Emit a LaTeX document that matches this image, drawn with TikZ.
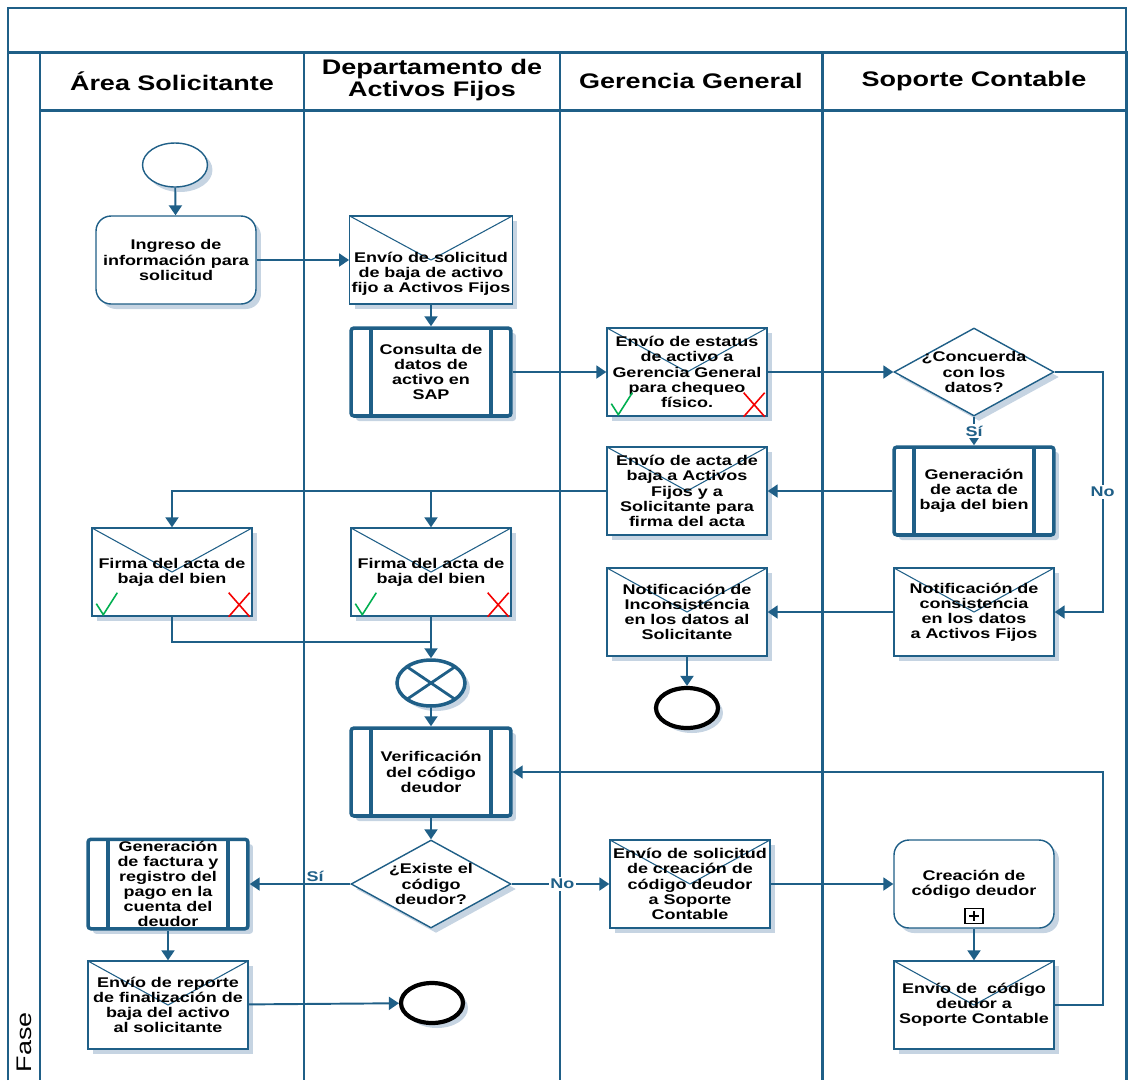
\documentclass[tikz,border=0pt]{standalone}
\usepackage{fontspec}
\usetikzlibrary{arrows.meta,shapes.geometric,shadows}
\newfontfamily\bpmnfont[FakeStretch=1.28]{Liberation Sans}
\definecolor{bpmnblue}{RGB}{31,95,135}
\definecolor{bpmnshadow}{RGB}{198,212,226}
\definecolor{okgreen}{RGB}{0,175,80}
\definecolor{nored}{RGB}{245,0,0}

\begin{document}
\begin{tikzpicture}[x=0.02cm,y=-0.02cm]
	\tikzstyle{lane} = [bpmnblue,line width=1.7pt]
	\tikzstyle{lanehead} = [font=\bpmnfont\bfseries\fontsize{12}{13}\selectfont,align=center]
	\tikzstyle{sombra} = [drop shadow={shadow xshift=0.1cm,shadow yshift=-0.1cm,fill=bpmnshadow,opacity=1}]
	\tikzstyle{bpmnbox} = [draw=bpmnblue,fill=white,line width=0.8pt,sombra,minimum width=3.2cm,minimum height=1.76cm,inner sep=1pt,align=center,font=\bpmnfont\bfseries\fontsize{8}{8.6}\selectfont]
	\tikzstyle{tarea} = [bpmnbox,rounded corners=0.3cm]
	\tikzstyle{mensaje} = [bpmnbox,path picture={\draw[bpmnblue,line width=0.6pt] (path picture bounding box.north west) -- (path picture bounding box.center) -- (path picture bounding box.north east);}]
	\tikzstyle{subproceso} = [bpmnbox,line width=2pt,rounded corners=0.06cm,path picture={\draw[bpmnblue,line width=2pt] ([xshift=0.4cm]path picture bounding box.north west) -- ([xshift=0.4cm]path picture bounding box.south west) ([xshift=-0.4cm]path picture bounding box.north east) -- ([xshift=-0.4cm]path picture bounding box.south east);}]
	\tikzstyle{decision} = [bpmnbox,diamond,aspect=2,inner xsep=-0.4cm,inner ysep=-0.2cm]
	\tikzstyle{inicio} = [ellipse,draw=bpmnblue,fill=white,line width=0.8pt,sombra,minimum width=1.3cm,minimum height=0.88cm]
	\tikzstyle{fin} = [ellipse,draw=black,fill=white,line width=2.4pt,sombra,minimum width=1.24cm,minimum height=0.8cm]
	\tikzstyle{compuerta} = [ellipse,draw=bpmnblue,fill=white,line width=2pt,sombra,minimum width=1.36cm,minimum height=0.92cm,path picture={\draw[bpmnblue,line width=1.6pt] (path picture bounding box.north west) -- (path picture bounding box.south east) (path picture bounding box.south west) -- (path picture bounding box.north east);}]
	\tikzstyle{flujo} = [bpmnblue,line width=1.1pt,-{Triangle[width=0.26cm,length=0.2cm]}]
	\tikzstyle{etiq} = [font=\bpmnfont\bfseries\fontsize{8}{8.6}\selectfont,inner sep=1pt]

	% check and cross of a signed message
	\def\marcas#1{%
		\draw[okgreen,line width=0.9pt] ([shift={(5,-13)}]#1.south west) -- ([shift={(12,-2)}]#1.south west) -- ([shift={(26,-24)}]#1.south west);
		\draw[nored,line width=0.9pt] ([shift={(-24,-24)}]#1.south east) -- ([shift={(-3,0)}]#1.south east) ([shift={(-24,0)}]#1.south east) -- ([shift={(-3,-24)}]#1.south east);}

	\useasboundingbox (0,0) rectangle (1130,1080);

	% LANES %
	\draw[bpmnblue,line width=0.8pt] (8,8) rectangle (1126,52);
	\draw[lane] (8,1080) -- (8,52) -- (1126,52) -- (1126,1080);
	\draw[lane] (40,110) -- (1126,110);
	\foreach \xl in {40,304,560,822}
		\draw[lane] (\xl,52) -- (\xl,1080);

	\node[lanehead] (hsol) at (172,81) {Área Solicitante};
	\node[lanehead] (hact) at (432,80) {Departamento de\\Activos Fijos};
	\node[lanehead] (hger) at (691,81) {Gerencia General};
	\node[lanehead] (hsop) at (974,81) {Soporte Contable};
	\node[font=\bpmnfont\fontsize{12}{13}\selectfont,rotate=90,anchor=west,inner sep=2pt] (fase) at (24,1076) {Fase};

	% NODES %
	\node[inicio] (inicio) at (175,165) {};
	\node[tarea] (ingreso) at (176,260) {Ingreso de\\información para\\solicitud};
	\node[mensaje] (envsol) at (431,260) {\rule{0pt}{22pt}Envío de solicitud\\de baja de activo\\fijo a Activos Fijos};
	\node[subproceso] (consulta) at (431,372) {Consulta de\\datos de\\activo en\\SAP};
	\node[mensaje] (estatus) at (687,372) {Envío de estatus\\de activo a\\Gerencia General\\para chequeo\\físico.};
	\node[decision] (concuerda) at (974,372) {¿Concuerda\\con los\\datos?};
	\node[subproceso] (genacta) at (974,491) {Generación\\de acta de\\baja del bien};
	\node[mensaje] (envacta) at (687,491) {Envío de acta de\\baja a Activos\\Fijos y a\\Solicitante para\\firma del acta};
	\node[mensaje] (firma1) at (172,572) {Firma del acta de\\baja del bien};
	\node[mensaje] (firma2) at (431,572) {Firma del acta de\\baja del bien};
	\node[mensaje] (notcons) at (974,612) {Notificación de\\consistencia\\en los datos\\a Activos Fijos};
	\node[mensaje] (notincons) at (687,612) {Notificación de\\Inconsistencia\\en los datos al\\Solicitante};
	\node[fin] (fin1) at (687,708) {};
	\node[compuerta] (compuerta) at (431,683) {};
	\node[subproceso] (verif) at (431,772) {Verificación\\del código\\deudor};
	\node[decision] (existe) at (431,884) {¿Existe el\\código\\deudor?};
	\node[subproceso] (factura) at (168,884) {Generación\\de factura y\\registro del\\pago en la\\cuenta del\\deudor};
	\node[mensaje] (reporte) at (168,1005) {Envío de reporte\\de finalización de\\baja del activo\\al solicitante};
	\node[fin] (fin2) at (432,1003) {};
	\node[mensaje] (envcrea) at (690,884) {Envío de solicitud\\de creación de\\código deudor\\a Soporte\\Contable};
	\node[tarea] (creacion) at (974,884) {Creación de\\código deudor};
	\node[draw=black,fill=white,line width=0.6pt,minimum width=0.36cm,minimum height=0.3cm,inner sep=0pt,path picture={\draw[black,line width=1.3pt] ([xshift=-0.1cm]path picture bounding box.center) -- ([xshift=0.1cm]path picture bounding box.center) ([yshift=-0.1cm]path picture bounding box.center) -- ([yshift=0.1cm]path picture bounding box.center);}] (mas) at ([yshift=0.26cm]creacion.south) {};
	\node[mensaje] (envcod) at (974,1005) {Envío de\ \ código\\deudor a\\Soporte Contable};

	\marcas{estatus}
	\marcas{firma1}
	\marcas{firma2}

	% EDGES %
	\draw[flujo] (inicio) -- (ingreso);
	\draw[flujo] (ingreso) -- (envsol);
	\draw[flujo] (envsol) -- (consulta);
	\draw[flujo] (consulta) -- (estatus);
	\draw[flujo] (estatus) -- (concuerda);
	\draw[flujo] (concuerda) -- node[etiq,fill=white] {Sí} (genacta);
	\draw[flujo] (concuerda.east) -- ++(48,0) |- node[pos=0.25,etiq,fill=white] {No} (notcons.east);
	\draw[flujo] (genacta) -- (envacta);
	\draw[flujo] (envacta.west) -| (firma1.north);
	\draw[flujo] (firma2.north |- envacta.west) -- (firma2);
	\draw[flujo] (notcons) -- (notincons);
	\draw[flujo] (notincons) -- (fin1);
	\coordinate (junta) at (431,642);
	\draw[bpmnblue,line width=1.1pt] (firma1) |- (junta);
	\draw[flujo] (firma2) -- (compuerta);
	\draw[flujo] (compuerta) -- (verif);
	\draw[flujo] (verif) -- (existe);
	\draw[flujo] (existe) -- node[pos=0.35,above,etiq] {Sí} (factura);
	\draw[flujo] (existe) -- node[pos=0.52,etiq,fill=white] {No} (envcrea);
	\draw[flujo] (factura) -- (reporte);
	\draw[flujo] (reporte) -- (fin2);
	\draw[flujo] (envcrea) -- (creacion);
	\draw[flujo] (creacion) -- (envcod);
	\draw[flujo] (envcod.east) -- ++(48,0) |- (verif.east);
\end{tikzpicture}
\end{document}
